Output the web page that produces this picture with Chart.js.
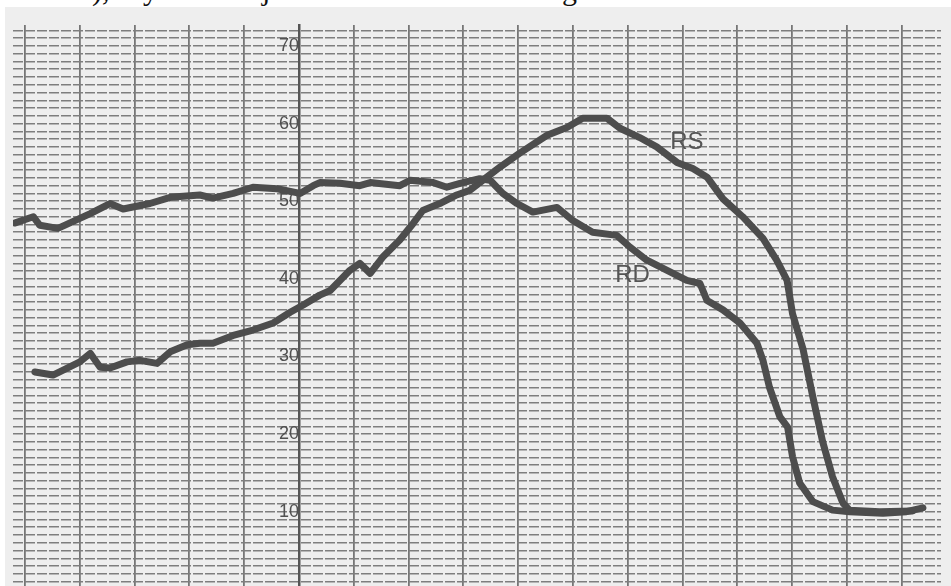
<!DOCTYPE html>
<html>
<head>
<meta charset="utf-8">
<script src="https://cdn.jsdelivr.net/npm/chart.js@4.4.1/dist/chart.umd.min.js"></script>
<style>
  html, body { margin: 0; padding: 0; background: #fff; }
  #wrap { position: relative; width: 951px; height: 586px; overflow: hidden; }
  #paper { position: absolute; left: 5px; top: 7px; width: 946px; height: 579px; background: #eeeeee; }
  #cut { position: absolute; left: 0; top: 0; width: 951px; height: 7px; overflow: hidden; }
  #cut span { position: absolute; top: -25px; font: 30px/30px "Liberation Serif", serif; color: #111; }
  #chart-canvas { position: absolute; left: 0; top: 0; }
</style>
</head>
<body>
<div id="wrap">
  <div id="cut">
    <span style="left:92px">),</span>
    <span style="left:143px">y</span>
    <span style="left:262px">j</span>
    <span style="left:562px">g</span>
  </div>
  <div id="paper"></div>
  <canvas id="chart-canvas" width="951" height="602"></canvas>
</div>
<script>
// recorder trace, x in chart divisions (10 per major line), y on the printed scale
var rdX = [-1.8, 1.5, 2.7, 6.0, 8.2, 11.9, 15.5, 17.9, 22.8, 26.5, 31.9, 34.3, 38.0, 41.6, 46.0, 50.2, 52.6, 53.8, 57.5, 61.1,
           63.0, 68.4, 70.3, 74.5, 77.0, 79.4, 83.0, 84.9, 87.2, 89.8, 92.7, 97.1, 100.0, 103.6, 108.0, 110.4, 113.5, 117.2, 120.8, 123.2,
           124.5, 127.4, 130.5, 133.6, 134.7, 135.9, 137.8, 139.2, 140.1, 141.4, 143.8, 147.4, 150.5, 156.6, 160.9, 163.9];
var rdY = [47.2, 48.0, 46.9, 46.5, 47.2, 48.4, 49.7, 49.0, 49.7, 50.5, 50.8, 50.4, 51.0, 51.8, 51.6, 51.0, 52.0, 52.4, 52.3, 52.0,
           52.4, 52.0, 52.7, 52.4, 51.8, 52.3, 52.9, 52.7, 51.0, 49.7, 48.6, 49.2, 47.5, 46.0, 45.6, 44.1, 42.4, 41.1, 39.8, 39.4,
           37.2, 36.0, 34.3, 31.7, 29.5, 26.0, 22.2, 20.9, 17.1, 13.7, 11.3, 10.2, 10.0, 9.8, 10.0, 10.5];

var rsX = [1.8, 5.1, 7.7, 10.0, 11.9, 13.7, 15.5, 18.6, 21.0, 24.1, 26.5, 29.6, 31.9, 34.3, 38.0, 41.6, 45.3, 48.4, 50.7, 53.8,
           55.7, 59.3, 61.1, 63.0, 65.3, 68.4, 70.8, 72.6, 75.7, 78.8, 81.2, 84.3, 86.7, 90.3, 95.3, 98.9, 101.8, 106.2, 108.6, 112.2,
           115.3, 119.0, 121.9, 124.5, 127.4, 131.0, 134.7, 137.2, 139.1, 140.1, 142.0, 143.8, 145.6, 147.4, 149.3, 150.5, 156.0, 162.0];
var rsY = [28.0, 27.6, 28.5, 29.3, 30.4, 28.6, 28.5, 29.3, 29.5, 29.1, 30.6, 31.5, 31.7, 31.7, 32.7, 33.4, 34.3, 35.7, 36.6, 37.9,
           38.5, 41.1, 42.0, 40.7, 42.8, 45.0, 47.1, 48.8, 49.7, 50.8, 51.4, 53.1, 54.4, 56.2, 58.5, 59.5, 60.7, 60.7, 59.4, 58.2,
           57.0, 55.0, 54.2, 53.1, 50.3, 48.0, 45.2, 42.4, 39.8, 35.5, 31.0, 24.8, 19.0, 14.5, 11.1, 10.2, 10.0, 10.1];

var xTicks = [0, 10, 20, 30, 40, 50, 60, 70, 80, 90, 100, 110, 120, 130, 140, 150, 160];
var yLabels = [10, 20, 30, 40, 50, 60, 70];

function pairs(xs, ys) {
  return xs.map(function (x, i) { return {x: x, y: ys[i]}; });
}

// curve names written on the paper
var traceLabels = {
  id: 'traceLabels',
  afterDatasetsDraw: function (chart) {
    var ctx = chart.ctx, sx = chart.scales.x, sy = chart.scales.y;
    ctx.save();
    ctx.fillStyle = '#555';
    ctx.font = '24px "Liberation Sans", Arial, sans-serif';
    ctx.textAlign = 'center';
    ctx.textBaseline = 'middle';
    ctx.fillText('RS', sx.getPixelForValue(120.8), sy.getPixelForValue(57.6));
    ctx.fillText('RD', sx.getPixelForValue(110.9), sy.getPixelForValue(40.5));
    ctx.restore();
  }
};

var ctx = document.getElementById('chart-canvas');
var chartCanvas = new Chart(ctx, {
  type: 'line',
  data: {
    datasets: [
      {label: 'RD', data: pairs(rdX, rdY)},
      {label: 'RS', data: pairs(rsX, rsY)}
    ]
  },
  options: {
    responsive: false,
    animation: false,
    devicePixelRatio: 1,
    layout: {padding: {left: 13, right: 10, top: 25, bottom: 0}},
    elements: {
      line: {borderColor: '#4d4d4d', borderWidth: 7, tension: 0, borderJoinStyle: 'round', borderCapStyle: 'round'},
      point: {radius: 0}
    },
    plugins: {legend: {display: false}, tooltip: {enabled: false}},
    scales: {
      x: {
        type: 'linear',
        min: -2.2,
        max: 167.2,
        afterBuildTicks: function (s) { s.ticks = xTicks.map(function (v) { return {value: v}; }); },
        ticks: {display: false},
        grid: {color: '#767676', lineWidth: 1.8, drawTicks: false},
        border: {display: false}
      },
      y: {
        type: 'linear',
        min: 0.4,
        max: 72.7,
        position: {x: 50},
        afterBuildTicks: function (s) {
          var t = [];
          for (var v = 1; v <= 72; v++) t.push({value: v});
          s.ticks = t;
        },
        ticks: {
          autoSkip: false,
          padding: 5,
          color: '#505050',
          font: {size: 18, family: '"Liberation Sans", Arial, sans-serif'},
          callback: function (v) { return yLabels.indexOf(v) >= 0 ? String(v) : ''; }
        },
        grid: {color: '#7e7e7e', lineWidth: 1.5, drawTicks: false},
        border: {display: true, color: '#555', width: 2.5, dash: [10, 2]}
      }
    }
  },
  plugins: [traceLabels]
});
</script>
</body>
</html>
